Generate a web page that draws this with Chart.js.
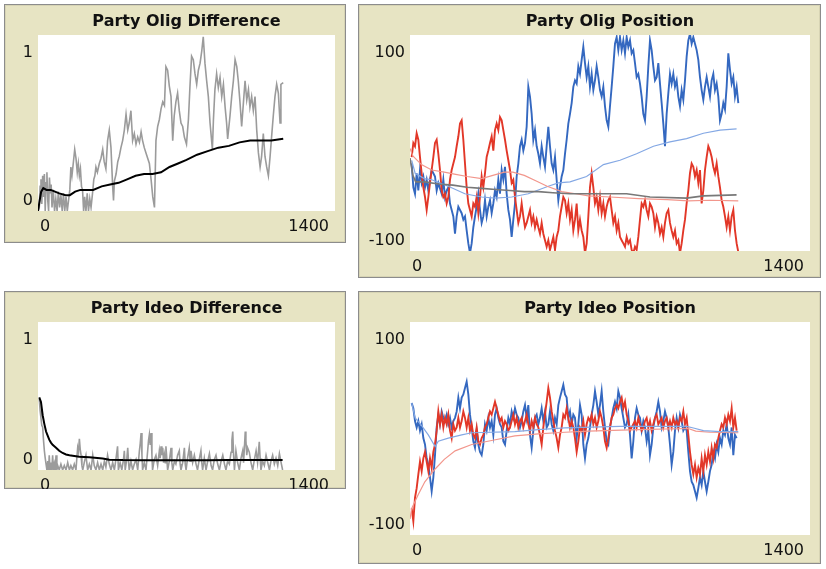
<!DOCTYPE html>
<html>
<head>
<meta charset="utf-8">
<title>Party Olig / Ideo</title>
<script src="https://cdn.jsdelivr.net/npm/chart.js@4.4.0/dist/chart.umd.min.js"></script>
<style>
  body { margin: 0; background: #ffffff; width: 826px; height: 569px; position: relative; overflow: hidden; }
  canvas { position: absolute; }
</style>
</head>
<body>
<canvas id="oligDiff"></canvas>
<canvas id="oligPos"></canvas>
<canvas id="ideoDiff"></canvas>
<canvas id="ideoPos"></canvas>

<script>
// ticks between two samples of the position plots
var sampleStep = 5.833;

// Party Olig Difference
var oligDiffX = [0, 6, 10, 14, 18, 22, 26, 30, 34, 38, 42, 46, 50, 54, 58, 62, 66, 72, 78, 84, 90, 96, 102, 108, 114, 120, 126, 132, 138, 144, 150, 155, 160, 167, 173, 179, 185, 190, 195, 200, 205, 210, 215, 220, 226, 232, 238, 244, 250, 257, 263, 268, 273, 280, 289, 297, 305, 312, 320, 328, 336, 344, 352, 356, 360, 368, 376, 383, 391, 399, 407, 415, 423, 430, 438, 446, 454, 462, 470, 478, 486, 493, 501, 509, 517, 525, 533, 541, 549, 556, 564, 572, 580, 588, 596, 603, 611, 619, 627, 635, 642, 650, 658, 666, 674, 682, 690, 700, 709, 716, 724, 732, 740, 748, 756, 764, 772, 779, 787, 795, 803, 811, 822, 827, 834, 842, 850, 858, 866, 874, 882, 889, 894, 905, 913, 921, 929, 937, 944, 952, 960, 968, 976, 984, 992, 999, 1007, 1015, 1023, 1031, 1039, 1047, 1054, 1062, 1070, 1078, 1086, 1094, 1101, 1109, 1117, 1125, 1133, 1141, 1145, 1156];
var oligDiffY = [0, 0.02, 0.14, 0.18, 0.04, 0.2, 0.08, 0.21, 0, 0.16, 0.22, 0.06, 0, 0.19, 0.1, 0.15, 0.02, 0.12, 0, 0.07, 0, 0.11, 0.02, 0.09, 0, 0.1, 0, 0.08, 0, 0.06, 0.12, 0.25, 0.2, 0.28, 0.35, 0.3, 0.22, 0.27, 0.2, 0.24, 0.14, 0.12, 0, 0.08, 0, 0.1, 0, 0.07, 0.02, 0.1, 0.18, 0.2, 0.25, 0.22, 0.27, 0.3, 0.35, 0.28, 0.24, 0.4, 0.46, 0.36, 0.14, 0.06, 0.17, 0.21, 0.28, 0.31, 0.36, 0.4, 0.46, 0.55, 0.46, 0.5, 0.57, 0.4, 0.44, 0.38, 0.42, 0.39, 0.45, 0.4, 0.36, 0.33, 0.3, 0.27, 0.18, 0.08, 0.02, 0.4, 0.48, 0.52, 0.58, 0.62, 0.6, 0.82, 0.8, 0.71, 0.65, 0.4, 0.54, 0.62, 0.67, 0.57, 0.5, 0.48, 0.42, 0.38, 0.52, 0.7, 0.88, 0.86, 0.78, 0.72, 0.8, 0.84, 0.91, 0.99, 0.84, 0.74, 0.65, 0.5, 0.35, 0.52, 0.69, 0.78, 0.7, 0.76, 0.65, 0.72, 0.59, 0.5, 0.41, 0.54, 0.65, 0.74, 0.86, 0.82, 0.74, 0.62, 0.48, 0.61, 0.74, 0.63, 0.69, 0.59, 0.65, 0.57, 0.65, 0.46, 0.33, 0.25, 0.31, 0.44, 0.31, 0.25, 0.2, 0.31, 0.42, 0.54, 0.65, 0.72, 0.67, 0.5, 0.72, 0.73];
var oligMeanX = [0, 8, 15, 25, 40, 60, 80, 100, 130, 150, 175, 200, 230, 260, 300, 340, 380, 420, 460, 500, 540, 580, 620, 660, 700, 750, 800, 850, 900, 950, 1000, 1050, 1100, 1156];
var oligMeanY = [0, 0.06, 0.11, 0.13, 0.12, 0.12, 0.11, 0.1, 0.09, 0.09, 0.11, 0.12, 0.12, 0.12, 0.14, 0.15, 0.16, 0.18, 0.2, 0.21, 0.21, 0.22, 0.25, 0.27, 0.29, 0.32, 0.34, 0.36, 0.37, 0.39, 0.4, 0.4, 0.4, 0.41];

// Party Olig Position (sampled every sampleStep ticks)
var oligBlue = [-19, -41, -47, -28, -44, -25, -37, -31, -41, -34, -44, -34, -25, -28, -31, -44, -37, -42, -47, -34, -50, -44, -41, -56, -62, -68, -84, -68, -59, -62, -65, -71, -68, -81, -93, -102, -93, -78, -68, -59, -47, -62, -74, -68, -53, -68, -59, -53, -65, -56, -44, -50, -34, -47, -25, -34, -22, -47, -62, -71, -87, -71, -56, -31, -19, -3, 3, -7, 0, 15, 52, 43, 27, 3, 12, -3, -10, -19, -3, -13, -22, -3, 15, -3, -19, -25, -13, -34, -53, -41, -31, -25, -10, 3, 18, 27, 37, 52, 58,
  55, 71, 64, 77, 89, 74, 61, 71, 52, 64, 49, 58, 71, 61, 49, 43, 52, 34, 21, 15, 34, 52, 71, 92, 98, 86, 98, 86, 95, 83, 98, 89, 95, 83, 86, 74, 61, 64, 55, 43, 27, 21, 43, 71, 95, 86, 71, 58, 61, 74, 55, 37, 18, -3, 27, 46, 64, 55, 64, 52, 58, 43, 34, 49, 40, 58, 80, 95, 101, 92, 98, 92, 86, 77, 61, 49, 40, 52, 61, 52, 43, 58, 64, 49, 55, 43, 21, 27, 37, 31, 52, 83, 68, 55, 61, 43, 52, 37];
var oligRed = [-13, 0, -3, 9, 3, -13, -28, -41, -50, -62, -50, -37, -25, -13, 0, 3, -10, -25, -44, -50, -47, -56, -50, -34, -25, -19, -13, -3, 6, 18, 21, 3, -19, -41, -56, -62, -68, -56, -59, -50, -65, -50, -31, -41, -28, -13, -7, 0, 6, -7, 12, 18, 12, 24, 21, 12, 3, -7, -16, -25, -37, -34, -50, -62, -74, -68, -56, -68, -78, -74, -68, -62, -74, -68, -78, -71, -78, -84, -74, -84, -90, -96, -90, -99, -93, -87, -99, -87, -81, -68, -59, -50, -53, -65, -56, -71, -62, -81, -71,
  -56, -81, -71, -81, -87, -102, -93, -68, -41, -28, -41, -56, -50, -62, -50, -65, -56, -68, -59, -53, -50, -62, -74, -68, -81, -74, -87, -90, -93, -96, -87, -93, -90, -99, -102, -96, -99, -87, -71, -56, -59, -53, -62, -68, -56, -59, -65, -78, -68, -74, -84, -78, -87, -74, -65, -62, -74, -81, -87, -81, -93, -90, -102, -93, -81, -71, -56, -44, -28, -19, -22, -31, -25, -37, -25, -56, -44, -25, -13, -3, -7, -13, -22, -28, -19, -31, -41, -53, -59, -68, -78, -68, -81, -68, -62, -81, -93, -101];
var oligBlueMeanX = [6, 18, 50, 76, 134, 192, 251, 298, 356, 414, 484, 519, 560, 618, 677, 735, 793, 852, 910, 968, 1027, 1085, 1143];
var oligBlueMeanY = [-16, -28, -33, -34, -40, -47, -50, -51, -50, -47, -40, -37, -36, -31, -20, -16, -10, -3, 1, 4, 9, 12, 13];
var oligRedMeanX = [0, 10, 40, 76, 120, 160, 200, 251, 290, 330, 360, 400, 440, 480, 531, 580, 624, 700, 800, 900, 974, 1050, 1149];
var oligRedMeanY = [-5, -12, -20, -25, -27, -29, -31, -33, -30, -27, -27, -30, -35, -40, -45, -47, -49, -50, -51.5, -52.5, -53.5, -53, -53.5];
var oligAllX = [0, 10, 20, 50, 100, 150, 200, 250, 300, 350, 400, 450, 500, 560, 650, 758, 840, 968, 1027, 1143];
var oligAllY = [-14, -30, -36, -36, -38, -39, -41, -42, -43, -44, -45, -45, -46, -47, -47, -47, -50, -51, -49, -48];

// Party Ideo Difference
var ideoDiffX = [6, 10, 14, 18, 22, 26, 30, 34, 38, 42, 46, 50, 53, 57, 61, 65, 69, 73, 77, 81, 85, 89, 93, 100, 108, 116, 124, 132, 140, 148, 155, 163, 171, 179, 183, 187, 191, 195, 199, 203, 207, 211, 218, 226, 234, 242, 250, 258, 265, 273, 281, 289, 297, 305, 313, 320, 328, 336, 344, 352, 360, 368, 375, 379, 387, 395, 403, 407, 411, 419, 423, 427, 430, 438, 446, 454, 462, 470, 478, 482, 486, 490, 493, 501, 509, 517, 521, 525, 529, 533, 537, 540, 548, 556, 564, 572, 576, 580, 584, 588, 592, 596, 600, 603, 607, 611, 619, 627, 631, 635, 643, 650, 658, 666, 670, 674, 682, 690, 694, 698, 705, 713, 717, 721, 729, 737, 745, 752, 760, 768, 772, 776, 784, 792, 800, 808, 816, 823, 831, 839, 847, 855, 863, 871, 879, 886, 894, 902, 910, 914, 918, 922, 926, 933, 941, 949, 957, 965, 969, 973, 977, 980, 984, 988, 996, 1004, 1012, 1020, 1028, 1035, 1043, 1047, 1051, 1059, 1067, 1075, 1083, 1091, 1098, 1106, 1114, 1122, 1130, 1138, 1146, 1153];
var ideoDiffY = [0.48, 0.4, 0.35, 0.3, 0.29, 0.2, 0.13, 0.08, 0.04, 0, 0.06, 0, 0.1, 0, 0.05, 0, 0.1, 0, 0.04, 0, 0.1, 0, 0.03, 0, 0.04, 0, 0.03, 0, 0.05, 0, 0.03, 0, 0.04, 0, 0.08, 0.15, 0.12, 0.21, 0.14, 0.1, 0.03, 0, 0.05, 0.1, 0, 0.04, 0, 0.1, 0.03, 0, 0.05, 0, 0.04, 0, 0.06, 0.02, 0.1, 0.04, 0, 0.05, 0, 0.08, 0.16, 0, 0.05, 0, 0.07, 0.13, 0, 0.08, 0.15, 0.05, 0, 0.06, 0, 0.04, 0.07, 0, 0.13, 0.18, 0.25, 0.1, 0, 0.05, 0, 0.13, 0.2, 0.24, 0.17, 0.25, 0.1, 0, 0.07, 0.1, 0.03, 0.13, 0.08, 0.16, 0.1, 0.15, 0.05, 0.1, 0.05, 0.16, 0.08, 0, 0.06, 0.15, 0.05, 0, 0.06, 0.04, 0.1, 0.13, 0.04, 0, 0.05, 0.15, 0.04, 0, 0.08, 0.15, 0.06, 0.13, 0.05, 0.1, 0.04, 0, 0.07, 0.13, 0.05, 0, 0.08, 0, 0.06, 0.11, 0.03, 0, 0.07, 0.1, 0.04, 0, 0.06, 0.1, 0.04, 0, 0.06, 0.04, 0.12, 0.2, 0.26, 0.1, 0, 0.13, 0.05, 0, 0.08, 0.13, 0.05, 0.15, 0.26, 0.2, 0.1, 0.15, 0.12, 0.05, 0, 0.07, 0.13, 0.05, 0.19, 0.08, 0, 0.06, 0.03, 0.1, 0.05, 0, 0.06, 0.1, 0.04, 0.08, 0.03, 0.11, 0.05, 0];
var ideoMeanX = [6, 14, 22, 30, 38, 46, 53, 61, 69, 77, 85, 100, 116, 132, 148, 163, 195, 242, 305, 336, 400, 500, 600, 700, 800, 900, 1000, 1100, 1153];
var ideoMeanY = [0.49, 0.46, 0.37, 0.31, 0.26, 0.23, 0.205, 0.185, 0.17, 0.16, 0.15, 0.13, 0.115, 0.105, 0.1, 0.097, 0.09, 0.086, 0.077, 0.07, 0.067, 0.066, 0.066, 0.066, 0.066, 0.067, 0.067, 0.068, 0.068];

// Party Ideo Position (sampled every sampleStep ticks)
var ideoBlue = [24, 19, 7, 1, 7, -2, 4, -9, -15, -28, -34, -46, -59, -46, -25, 1, 13, 4, 16, 10, 7, 13, 4, 10, 1, 7, 10, 16, 29, 19, 29, 32, 38, 44, 32, 13, 1, -12, -18, -2, -15, -22, -25, -15, 4, -2, 10, 1, 7, -6, 13, 19, 10, 4, 1, -12, -15, -2, 10, 4, 16, 10, 19, 13, 10, 1, 7, 16, 22, 10, 22, -6, -18, -2, 10, 13, 4, 10, 19, 7, 16, 1, 4, 16, 4, -2, 10, 4, 22, 29, 35, 41, 32, 29, 10, 16, 4, 13, 10,
  -9, 4, 22, 13, -15, -28, -15, -9, 1, 13, 22, 35, 25, 13, 22, 35, 16, 1, -12, -15, 1, 10, 19, 25, 19, 35, 29, 19, 10, 1, 4, 13, -6, -28, -12, 10, 19, 13, 10, -2, 7, 1, -12, -2, -25, -15, 1, 10, 16, 25, 16, 1, 7, 16, 10, 1, -15, -34, -22, -2, 10, 1, 13, 7, -2, 1, -2, -22, -40, -50, -53, -59, -65, -56, -46, -53, -40, -50, -59, -50, -40, -34, -22, -28, -15, -22, -9, -15, -2, -6, 4, -9, -15, 1, -25, -6, -9];
var ideoRed = [-75, -87, -65, -56, -43, -31, -40, -28, -22, -31, -40, -28, -37, -22, -15, -2, 16, 4, 13, 1, 10, 4, 13, -2, -9, 4, -2, 1, 10, 1, 7, 16, 10, 1, 10, -2, 4, -6, -9, 1, -12, -15, -9, -6, 1, 4, 10, 16, 13, 19, 25, 19, 13, 7, 10, 1, 7, 4, -2, 1, 7, 13, 4, 10, 1, 7, 10, 1, 7, 13, 4, -2, 7, 1, 10, 4, 1, -6, -15, 1, 13, 25, 38, 29, 16, 7, -2, -9, -18, -6, 1, 13, 10, 19, 10, 1, 7, 1, -9,
  -22, -12, 1, -2, 7, -6, 4, 10, 7, 13, 4, 10, 1, 7, 16, 10, 1, -12, -18, -9, 1, 10, 13, 19, 22, 19, 25, 29, 19, 25, 13, 7, -2, 1, 4, 7, 1, 10, 4, -2, 1, 7, 10, 1, 7, -2, 4, 10, 13, 4, 7, 10, 1, 7, 10, 1, 7, 1, 10, 4, 7, 1, 10, 7, 16, 4, 10, -6, -22, -34, -43, -34, -46, -37, -43, -28, -40, -25, -34, -22, -31, -18, -28, -15, -18, -9, -2, 4, 1, 10, 4, 13, 7, 19, 1, 10, -2];
var ideoBlueMeanX = [6, 18, 40, 64, 88, 99, 134, 181, 216, 367, 449, 542, 735, 968, 992, 1027, 1085, 1149];
var ideoBlueMeanY = [24, 10, 3, -6, -17, -12, -9, -6, -4, -3, -1, 0.5, 2, 2, 0.5, -2, -3, -3];
var ideoRedMeanX = [0, 6, 29, 52, 88, 120, 158, 216, 290, 367, 449, 542, 624, 799, 974, 1000, 1050, 1149];
var ideoRedMeanY = [-85, -75, -62, -50, -38, -29, -21, -15, -11, -7, -5, -3.5, -2.5, -1, 0, -2.5, -3.5, -4];

// colours
var blueCol = "rgb(52, 104, 192)";
var redCol = "rgb(226, 55, 40)";
var lightBlueCol = "rgb(132, 168, 228)";
var lightRedCol = "rgb(242, 150, 140)";
var greyCol = "rgb(155, 155, 155)";
var beige = "rgb(231, 228, 195)";

// page boxes of each plot: frame and white plot area
var panels = {
  oligDiff: { frame: [4, 4, 342, 239], plot: [38, 35, 335, 211], title: "Party Olig Difference", yLabels: ["1", "0"] },
  oligPos:  { frame: [358, 4, 463, 274], plot: [410, 35, 810, 251], title: "Party Olig Position", yLabels: ["100", "-100"] },
  ideoDiff: { frame: [4, 291, 342, 198], plot: [38, 322, 335, 470], title: "Party Ideo Difference", yLabels: ["1", "0"] },
  ideoPos:  { frame: [358, 291, 463, 273], plot: [410, 322, 810, 535], title: "Party Ideo Position", yLabels: ["100", "-100"] }
};
var xLabels = ["0", "1400"];

// function to pair x and y arrays
function toPoints(xs, ys) {
  var pts = [];
  for (var i = 0; i < ys.length; i++) {
    pts.push({ x: xs[i], y: ys[i] });
  }
  return pts;
}

// function for series sampled at a fixed tick interval
function sampled(ys) {
  var pts = [];
  for (var i = 0; i < ys.length; i++) {
    pts.push({ x: sampleStep * (i + 1), y: ys[i] });
  }
  return pts;
}

function pen(data, color, width) {
  return { data: data, borderColor: color, borderWidth: width, pointRadius: 0, tension: 0, fill: false };
}

// plugin that draws the NetLogo-like frame, title and the min/max labels
var framePlugin = {
  id: "netlogoFrame",
  beforeDraw: function(chart) {
    var ctx = chart.ctx;
    var a = chart.chartArea;
    ctx.save();
    ctx.fillStyle = beige;
    ctx.fillRect(0, 0, chart.width, chart.height);
    ctx.strokeStyle = "rgb(140, 140, 140)";
    ctx.lineWidth = 1;
    ctx.strokeRect(0.5, 0.5, chart.width - 1, chart.height - 1);
    ctx.strokeStyle = "rgb(215, 212, 180)";
    ctx.strokeRect(1.5, 1.5, chart.width - 3, chart.height - 3);
    ctx.fillStyle = "#ffffff";
    ctx.fillRect(a.left, a.top, a.right - a.left, a.bottom - a.top);
    ctx.restore();
  },
  afterDraw: function(chart) {
    var ctx = chart.ctx;
    var a = chart.chartArea;
    var p = chart.options.plugins.netlogoFrame;
    ctx.save();
    ctx.fillStyle = "#111111";
    ctx.font = "bold 16px 'DejaVu Sans'";
    ctx.textAlign = "center";
    ctx.textBaseline = "middle";
    ctx.fillText(p.title, (a.left + a.right) / 2, 18);

    ctx.font = "16px 'DejaVu Sans'";
    ctx.textAlign = "right";
    ctx.fillText(p.yLabels[0], a.left - 5, a.top + 18);
    ctx.fillText(p.yLabels[1], a.left - 5, a.bottom - 10);
    ctx.textAlign = "left";
    ctx.fillText(xLabels[0], a.left + 2, a.bottom + 16);
    ctx.textAlign = "right";
    ctx.fillText(xLabels[1], a.right - 6, a.bottom + 16);
    ctx.restore();
  }
};

function makeChart(id, datasets, yMin, yMax) {
  var p = panels[id];
  var canvas = document.getElementById(id);
  canvas.width = p.frame[2];
  canvas.height = p.frame[3];
  canvas.style.left = p.frame[0] + "px";
  canvas.style.top = p.frame[1] + "px";
  canvas.style.width = p.frame[2] + "px";
  canvas.style.height = p.frame[3] + "px";

  return new Chart(canvas.getContext("2d"), {
    type: "line",
    data: { datasets: datasets },
    options: {
      responsive: false,
      animation: false,
      devicePixelRatio: 1,
      layout: {
        padding: {
          left: p.plot[0] - p.frame[0],
          top: p.plot[1] - p.frame[1],
          right: p.frame[0] + p.frame[2] - p.plot[2],
          bottom: p.frame[1] + p.frame[3] - p.plot[3]
        }
      },
      scales: {
        x: { type: "linear", min: 0, max: 1400, display: false },
        y: { type: "linear", min: yMin, max: yMax, display: false }
      },
      plugins: {
        legend: { display: false },
        tooltip: { enabled: false },
        netlogoFrame: { title: p.title, yLabels: p.yLabels }
      }
    },
    plugins: [framePlugin]
  });
}

// first dataset is drawn on top
makeChart("oligDiff", [
  pen(toPoints(oligMeanX, oligMeanY), "#000000", 2),
  pen(toPoints(oligDiffX, oligDiffY), greyCol, 1.6)
], 0, 1);

makeChart("oligPos", [
  pen(toPoints(oligAllX, oligAllY), "rgb(120, 120, 120)", 1.6),
  pen(toPoints(oligRedMeanX, oligRedMeanY), lightRedCol, 1.2),
  pen(toPoints(oligBlueMeanX, oligBlueMeanY), lightBlueCol, 1.2),
  pen(sampled(oligRed), redCol, 1.9),
  pen(sampled(oligBlue), blueCol, 1.9)
], -100, 100);

makeChart("ideoDiff", [
  pen(toPoints(ideoMeanX, ideoMeanY), "#000000", 2),
  pen(toPoints(ideoDiffX, ideoDiffY), greyCol, 1.6)
], 0, 1);

makeChart("ideoPos", [
  pen(toPoints(ideoBlueMeanX, ideoBlueMeanY), lightBlueCol, 1.2),
  pen(toPoints(ideoRedMeanX, ideoRedMeanY), lightRedCol, 1.2),
  pen(sampled(ideoRed), redCol, 1.9),
  pen(sampled(ideoBlue), blueCol, 1.9)
], -100, 100);
</script>
</body>
</html>
